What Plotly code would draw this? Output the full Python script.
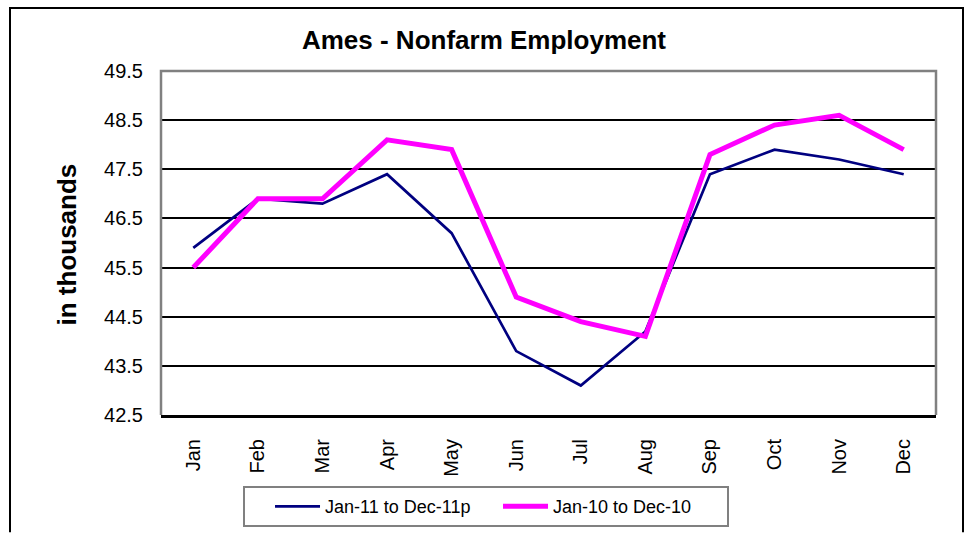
import plotly.graph_objects as go

months = ["Jan", "Feb", "Mar", "Apr", "May", "Jun", "Jul", "Aug", "Sep", "Oct", "Nov", "Dec"]
emp_2011 = [45.9, 46.9, 46.8, 47.4, 46.2, 43.8, 43.1, 44.2, 47.4, 47.9, 47.7, 47.4]
emp_2010 = [45.5, 46.9, 46.9, 48.1, 47.9, 44.9, 44.4, 44.1, 47.8, 48.4, 48.6, 47.9]
y_ticks = [42.5, 43.5, 44.5, 45.5, 46.5, 47.5, 48.5, 49.5]

FONT = "Arial, Liberation Sans, sans-serif"

W, H = 968, 539
L, R, T, B = 161, 32, 71, 119
pw, ph = W - L - R, H - T - B

def px(x):
    return (x - L) / pw

def py(y):
    return (H - B - y) / ph

fig = go.Figure()
fig.add_trace(go.Scatter(x=months, y=emp_2011, mode="lines", name="Jan-11 to Dec-11p",
                         line=dict(color="#000080", width=2.7)))
fig.add_trace(go.Scatter(x=months, y=emp_2010, mode="lines", name="Jan-10 to Dec-10",
                         line=dict(color="#FF00FF", width=5)))

fig.update_layout(
    width=W, height=H,
    margin=dict(l=L, r=R, t=T, b=B),
    paper_bgcolor="white", plot_bgcolor="white",
    font=dict(family=FONT, color="black"),
    title=dict(text="<b>Ames - Nonfarm Employment</b>", x=px(484), xref="paper", xanchor="center",
               y=1 - 40 / H, yanchor="middle", font=dict(size=26, family=FONT, color="black")),
    showlegend=True,
    legend=dict(orientation="h", x=px(486), y=py(513), xanchor="center", yanchor="middle",
                bordercolor="#808080", borderwidth=2, bgcolor="white",
                font=dict(size=18, family=FONT, color="black"),
                title=dict(text="\u00a0" * 3, side="left", font=dict(size=18, family=FONT)),
                itemwidth=45, entrywidth=168, entrywidthmode="pixels", tracegroupgap=0),
)

fig.update_xaxes(
    type="category", range=[-0.5, 11.5],
    showgrid=False, showline=True, linecolor="black", linewidth=3,
    tickangle=-90, tickfont=dict(size=20, family=FONT, color="black"),
    ticks="", ticklabelstandoff=13, zeroline=False,
)
fig.update_yaxes(
    range=[42.5, 49.5], tickvals=y_ticks, ticktext=[f"{v:.1f}" for v in y_ticks],
    showgrid=True, gridcolor="black", gridwidth=2,
    showline=False, zeroline=False, ticks="",
    tickfont=dict(size=20, family=FONT, color="black"), ticklabelstandoff=17,
)

# y-axis title
fig.add_annotation(text="<b>in thousands</b>", x=px(67), y=py(247), xref="paper", yref="paper",
                   textangle=-90, showarrow=False, xanchor="center", yanchor="middle",
                   font=dict(size=26, family=FONT, color="black"))

# gray plot frame (left, top, right)
fig.add_shape(type="path", xref="paper", yref="paper",
              path="M 0,0 L 0,1 L 1,1 L 1,0", line=dict(color="#808080", width=2.5), layer="above")
# outer chart border (left, top, right; bottom edge lies outside the picture)
ox0, ox1, oy0, oy1 = px(10), px(963), py(539), py(7)
fig.add_shape(type="path", xref="paper", yref="paper",
              path=f"M {ox0},{oy0} L {ox0},{oy1} L {ox1},{oy1} L {ox1},{oy0}",
              line=dict(color="black", width=2), layer="above")

fig.write_html("out.html", config={"displayModeBar": False},
               post_script="document.body.style.margin='0px';document.body.style.padding='0px';")
